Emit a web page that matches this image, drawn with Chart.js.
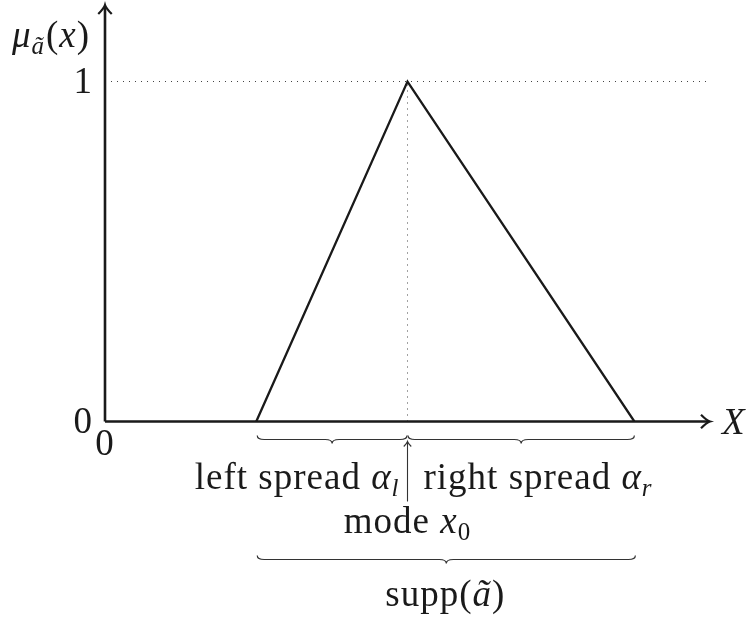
<!DOCTYPE html>
<html>
<head>
<meta charset="utf-8">
<script src="https://cdn.jsdelivr.net/npm/chart.js@4/dist/chart.umd.min.js"></script>
<style>
  html, body { margin: 0; padding: 0; background: #fff; }
  #wrap { width: 749px; height: 623px; }
</style>
</head>
<body>
<div id="wrap"><canvas id="chart" width="749" height="623"></canvas></div>
<script>
// triangular fuzzy number: left foot, mode, right foot
const supportX = [1, 2, 3.5];
const membership = [0, 1, 0];
const yTicks = [0, 1];
const xTicks = [0];
const xAxisMax = 4;
const yAxisMax = 1.225;
const guideEnd = 3.98;

const SERIF = '"Liberation Serif", "DejaVu Serif", serif';
const BIG = 37;
const SMALL = 25;
const INK = "#1a1a1a";

// draw a list of text runs on one baseline; align is left/center/right
function drawRuns(ctx, runs, x, y, align) {
    ctx.letterSpacing = "1px";
    let total = 0;
    const sized = runs.map((r) => {
        const size = r.sub ? SMALL : BIG;
        const font = `${r.it ? "italic " : ""}${size}px ${SERIF}`;
        ctx.font = font;
        const w = ctx.measureText(r.t).width + (r.gap || 0);
        total += w;
        return { ...r, font, w };
    });
    let cx = x;
    if (align === "center") cx = x - total / 2;
    else if (align === "right") cx = x - total;
    ctx.textBaseline = "alphabetic";
    ctx.textAlign = "left";
    for (const r of sized) {
        ctx.font = r.font;
        ctx.fillText(r.t, cx, y + (r.sub ? 7 : 0));
        cx += r.w;
    }
    ctx.letterSpacing = "0px";
}

// underbrace between x0 and x1, ends curling up, cusp pointing down
function underbrace(ctx, x0, x1, y) {
    const mid = (x0 + x1) / 2;
    const h = 4;
    const r = 7;
    ctx.beginPath();
    ctx.moveTo(x0, y - h);
    ctx.quadraticCurveTo(x0, y, x0 + r, y);
    ctx.lineTo(mid - r, y);
    ctx.quadraticCurveTo(mid, y, mid, y + h);
    ctx.quadraticCurveTo(mid, y, mid + r, y);
    ctx.lineTo(x1 - r, y);
    ctx.quadraticCurveTo(x1, y, x1, y - h);
    ctx.stroke();
}

// latex-ish arrow head at (x, y) pointing in direction ang
function arrowHead(ctx, x, y, ang, len) {
    ctx.save();
    ctx.translate(x, y);
    ctx.rotate(ang);
    ctx.beginPath();
    ctx.moveTo(-len, -len * 0.75);
    ctx.quadraticCurveTo(-len * 0.35, -len * 0.1, 0, 0);
    ctx.quadraticCurveTo(-len * 0.35, len * 0.1, -len, len * 0.75);
    ctx.stroke();
    ctx.restore();
}

const decorations = {
    id: "decorations",
    afterDatasetsDraw(chart) {
        const ctx = chart.ctx;
        const xs = chart.scales.x;
        const ys = chart.scales.y;
        const x0 = xs.getPixelForValue(0);
        const y0 = ys.getPixelForValue(0);
        const xEnd = xs.getPixelForValue(xAxisMax);
        const yEnd = ys.getPixelForValue(yAxisMax);

        ctx.save();
        ctx.strokeStyle = INK;
        ctx.lineCap = "butt";

        // axes
        ctx.lineWidth = 2.6;
        ctx.beginPath();
        ctx.moveTo(x0, y0);
        ctx.lineTo(xEnd - 2, y0);
        ctx.moveTo(x0, y0);
        ctx.lineTo(x0, yEnd + 2);
        ctx.stroke();
        ctx.lineWidth = 2.2;
        arrowHead(ctx, xEnd, y0, 0, 9);
        arrowHead(ctx, x0, yEnd, -Math.PI / 2, 9);

        ctx.fillStyle = INK;

        // axis labels
        drawRuns(ctx, [
            { t: "\u03bc", it: true },
            { t: "\u00e3", it: true, sub: true, gap: 1 },
            { t: "(" },
            { t: "x", it: true },
            { t: ")" },
        ], 51, 47, "center");
        drawRuns(ctx, [{ t: "X", it: true }], xEnd + 12, y0 + 12, "left");

        // tick labels
        for (const v of yTicks) {
            drawRuns(ctx, [{ t: String(v) }], x0 - 12, ys.getPixelForValue(v) + 11, "right");
        }
        for (const v of xTicks) {
            drawRuns(ctx, [{ t: String(v) }], xs.getPixelForValue(v), y0 + 33, "center");
        }

        // spreads and support
        const pa = xs.getPixelForValue(supportX[0]);
        const pm = xs.getPixelForValue(supportX[1]);
        const pb = xs.getPixelForValue(supportX[2]);
        ctx.lineWidth = 1.2;
        ctx.strokeStyle = "#333";
        underbrace(ctx, pa + 1, pm - 0.5, y0 + 18);
        underbrace(ctx, pm + 0.5, pb, y0 + 18);
        underbrace(ctx, pa + 1, pb + 1, y0 + 138);

        // mode arrow
        ctx.lineWidth = 1.1;
        ctx.beginPath();
        ctx.moveTo(pm, y0 + 80);
        ctx.lineTo(pm, y0 + 20);
        ctx.stroke();
        arrowHead(ctx, pm, y0 + 20, -Math.PI / 2, 5);

        drawRuns(ctx, [
            { t: "left spread " },
            { t: "\u03b1", it: true },
            { t: "l", it: true, sub: true },
        ], pm - 8, y0 + 67, "right");
        drawRuns(ctx, [
            { t: "right spread " },
            { t: "\u03b1", it: true },
            { t: "r", it: true, sub: true },
        ], pm + 16, y0 + 67, "left");
        drawRuns(ctx, [
            { t: "mode " },
            { t: "x", it: true },
            { t: "0", sub: true },
        ], pm, y0 + 111, "center");
        drawRuns(ctx, [
            { t: "supp(" },
            { t: "\u00e3", it: true },
            { t: ")" },
        ], (pa + pb) / 2, y0 + 184, "center");

        ctx.restore();
    },
};

new Chart(document.getElementById("chart"), {
    type: "scatter",
    data: {
        datasets: [
            {
                label: "guide y=1",
                data: [{ x: 0, y: 1 }, { x: guideEnd, y: 1 }],
                showLine: true,
                borderColor: "#444",
                borderWidth: 1,
                borderDash: [1, 5],
                pointRadius: 0,
            },
            {
                label: "guide mode",
                data: [{ x: supportX[1], y: 0 }, { x: supportX[1], y: 1 }],
                showLine: true,
                borderColor: "#444",
                borderWidth: 1,
                borderDash: [1, 5],
                pointRadius: 0,
            },
            {
                label: "membership",
                data: supportX.map((x, i) => ({ x, y: membership[i] })),
                showLine: true,
                borderColor: INK,
                borderWidth: 2.3,
                pointRadius: 0,
                borderJoinStyle: "miter",
            },
        ],
    },
    options: {
        responsive: false,
        animation: false,
        layout: { padding: { left: 105, right: 39, top: 5, bottom: 201.5 } },
        plugins: { legend: { display: false }, tooltip: { enabled: false } },
        scales: {
            x: { type: "linear", min: 0, max: xAxisMax, display: false },
            y: { type: "linear", min: 0, max: yAxisMax, display: false },
        },
    },
    plugins: [decorations],
});
</script>
</body>
</html>
